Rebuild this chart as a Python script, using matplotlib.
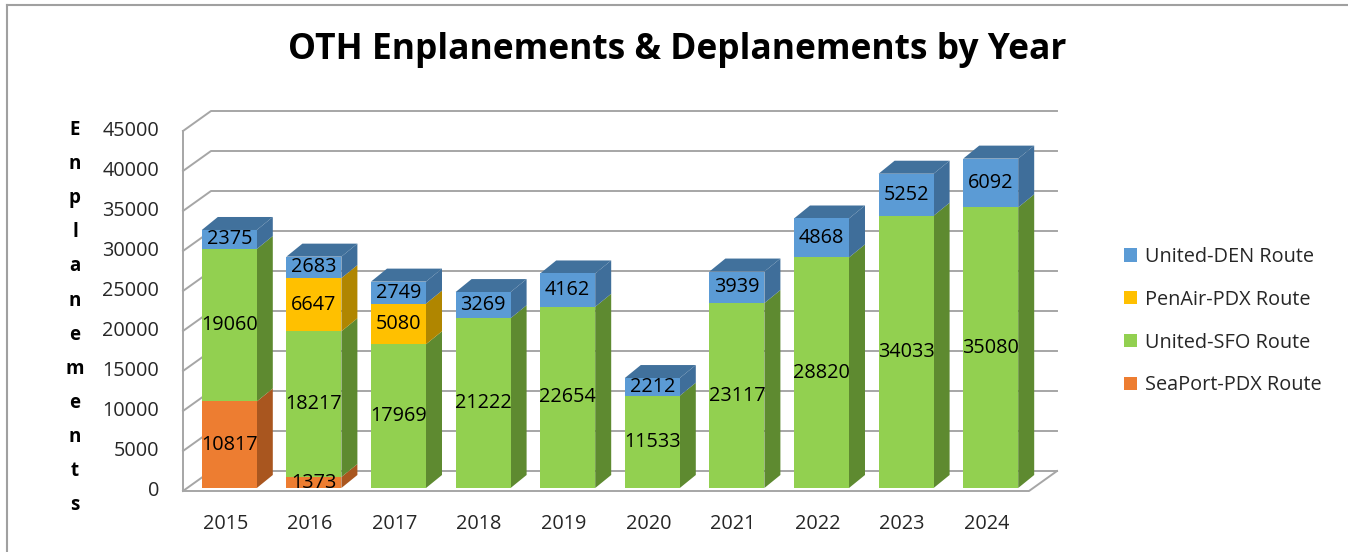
import matplotlib.pyplot as plt
from matplotlib.patches import Polygon, Rectangle, Patch
from matplotlib.lines import Line2D

years = ['2015', '2016', '2017', '2018', '2019', '2020', '2021', '2022', '2023', '2024']
seaport_pdx = [10817, 1373, 0, 0, 0, 0, 0, 0, 0, 0]
united_sfo = [19060, 18217, 17969, 21222, 22654, 11533, 23117, 28820, 34033, 35080]
penair_pdx = [0, 6647, 5080, 0, 0, 0, 0, 0, 0, 0]
united_den = [2375, 2683, 2749, 3269, 4162, 2212, 3939, 4868, 5252, 6092]
y_ticks = list(range(0, 45001, 5000))

# stacking order bottom -> top: name, values, front, side, top
series = [
    ('SeaPort-PDX Route', seaport_pdx, '#ED7D31', '#A9561F', '#C4621F'),
    ('United-SFO Route', united_sfo, '#92D050', '#5E8A30', '#6E9E3A'),
    ('PenAir-PDX Route', penair_pdx, '#FFC000', '#B08600', '#C99700'),
    ('United-DEN Route', united_den, '#5B9BD5', '#3F6E9A', '#41719C'),
]

W, H = 1348, 552
FONT = 'Open Sans'
plt.rcParams['font.family'] = [FONT, 'DejaVu Sans']
FS = 14.3

fig = plt.figure(figsize=(W / 100, H / 100), dpi=100)
ax = fig.add_axes([183 / W, 1 - 491 / H, 846 / W, 360 / H])
ax.set_xlim(-0.5, 9.5)
ax.set_ylim(0, 45000)
ax.axis('off')

# data units per pixel
ux = 10.0 / 846
uy = 45000 / 360
x0, x1 = -0.5, 9.5
wall_dx, wall_dy = 28 * ux, 20 * uy
bar_ox, bar_oy = 4 * ux, 3 * uy
bar_dx, bar_dy = 16 * ux, 13 * uy
bw = 55 * ux

grid_c = '#A6A6A6'
for v in y_ticks:
    ax.plot([x0, x0 + wall_dx, x1 + wall_dx], [v, v + wall_dy, v + wall_dy],
            color=grid_c, lw=1.4, clip_on=False, zorder=1)
    ax.text(x0 - 24 * ux, v, str(v), ha='right', va='center', fontsize=FS,
            color='#262626')
ax.plot([x0, x0], [0, 45000], color=grid_c, lw=1.4, clip_on=False, zorder=1)
ax.plot([x0, x1, x1 + wall_dx], [0, 0, wall_dy], color=grid_c, lw=1.4,
        clip_on=False, zorder=1)

for i, yr in enumerate(years):
    left = i - bw / 2 + bar_ox
    bottom = bar_oy
    top_c = None
    for name, vals, fc, sc, tc in series:
        v = vals[i]
        if v == 0:
            continue
        ax.add_patch(Polygon([(left + bw, bottom), (left + bw + bar_dx, bottom + bar_dy),
                              (left + bw + bar_dx, bottom + v + bar_dy), (left + bw, bottom + v)],
                             closed=True, fc=sc, ec='none', zorder=3, clip_on=False))
        ax.add_patch(Rectangle((left, bottom), bw, v, fc=fc, ec='none', zorder=4,
                               clip_on=False))
        ax.text(left + bw / 2, bottom + v / 2, str(v), ha='center', va='center',
                fontsize=FS, color='black', zorder=6)
        bottom += v
        top_c = tc
    ax.add_patch(Polygon([(left, bottom), (left + bw, bottom),
                          (left + bw + bar_dx, bottom + bar_dy), (left + bar_dx, bottom + bar_dy)],
                         closed=True, fc=top_c, ec='none', zorder=3, clip_on=False))
    ax.text(i, -33 * uy, yr, ha='center', va='center', fontsize=FS, color='#262626')

fig.text(677 / W, 1 - 50 / H, 'OTH Enplanements & Deplanements by Year',
         ha='center', va='center', fontsize=25.5, fontweight='bold')

# vertical stacked axis title
letters = list('Enplanements')
for k, ch in enumerate(letters):
    fig.text(75 / W, 1 - (130 + k * 34.1) / H, ch, ha='center', va='center',
             fontsize=13.5, fontweight='bold')

handles = [Patch(fc=s[2], ec='none', label=s[0]) for s in reversed(series)]
fig.legend(handles=handles, loc='upper left', bbox_to_anchor=(1106 / W, 1 - 229 / H),
           frameon=False, fontsize=FS, handlelength=0.65, handleheight=0.65,
           handletextpad=0.4, labelspacing=1.15, labelcolor='#262626')

# outer border (top and left)
fig.add_artist(Line2D([6.5 / W, 6.5 / W], [0, 1 - 5 / H], color='#A0A0A0', lw=1.5))
fig.add_artist(Line2D([6.5 / W, 1], [1 - 5 / H, 1 - 5 / H], color='#A0A0A0', lw=1.5))

fig.savefig('out.png', dpi=100)
